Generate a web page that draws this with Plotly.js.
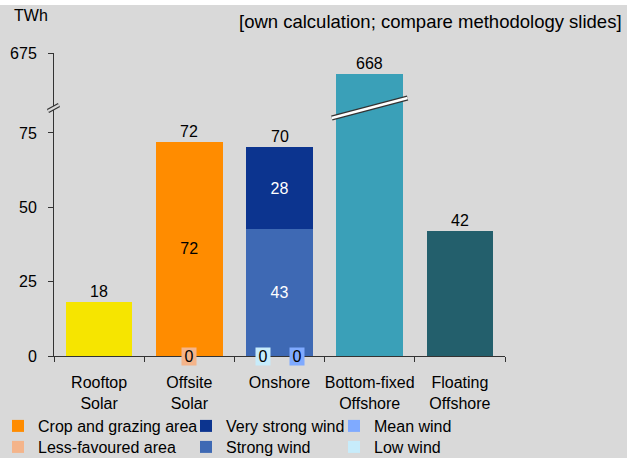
<!DOCTYPE html>
<html>
<head>
<meta charset="utf-8">
<script src="https://cdn.plot.ly/plotly-3.0.1.min.js"></script>
<style>html,body{margin:0;padding:0;background:#d9d9d9;}#chart{width:627px;height:458px;}</style>
</head>
<body>
<div id="chart"></div>
<script>
// ---- data ----
const categories = ['Rooftop<br>Solar', 'Offsite<br>Solar', 'Onshore', 'Bottom-fixed<br>Offshore', 'Floating<br>Offshore'];
const rooftopSolar   = [18, null, null, null, null];
const cropGrazing    = [null, 72, null, null, null];
const lessFavoured   = [null, 0, null, null, null];
const strongWind     = [null, null, 42.6, null, null];
const veryStrongWind = [null, null, 27.6, null, null];
const meanWind       = [null, null, 0, null, null];
const lowWind        = [null, null, 0, null, null];
const bottomFixed    = [null, null, null, 668, null];
const floatingOff    = [null, null, null, null, 42];
const yTickValues = [0, 25, 50, 75, 675];
const breakFrom = 83.4, breakTo = 656.5;   // broken value axis

// ---- helpers ----
const gap = breakTo - breakFrom;
const tf = v => (v == null ? null : (v >= breakTo ? v - gap : v));
const FONT = 'Liberation Sans, Arial, sans-serif';
const C = {
  rooftop: '#f6e500', crop: '#ff8c00', less: '#f4b48a', strong: '#3e69b4',
  vstrong: '#0c348f', mean: '#7faaff', low: '#c7ecfb', bottom: '#3aa0b8', floating: '#235f6c'
};
const PW = 451, PH = 303, ML = 54, MT = 53;
const px2x = p => (p - ML) / PW;
const px2y = p => (MT + PH - p) / PH;
const yTop = tf(675);
const px2v = p => (MT + PH - p) / PH * yTop;   // pixel row -> plotted value

function bar(name, vals, color, opts) {
  return Object.assign({
    type: 'bar', name: name, x: categories, y: vals.map(tf),
    marker: {color: color, line: {width: 0}}, hoverinfo: 'skip', cliponaxis: false
  }, opts || {});
}
const inside = (vals, col) => ({
  text: vals.map(v => v == null ? '' : String(Math.round(v))),
  textposition: 'inside', insidetextanchor: 'middle', textangle: 0,
  textfont: {family: FONT, size: 16, color: col}, constraintext: 'none'
});

const traces = [
  bar('Rooftop Solar', rooftopSolar, C.rooftop, {showlegend: false}),
  bar('Less-favoured area', lessFavoured, C.less, {legend: 'legend4'}),
  bar('Crop and grazing area', cropGrazing, C.crop, Object.assign({legend: 'legend'}, inside(cropGrazing, '#000'))),
  bar('Low wind', lowWind, C.low, {legend: 'legend6'}),
  bar('Mean wind', meanWind, C.mean, {legend: 'legend3'}),
  bar('Strong wind', strongWind, C.strong, Object.assign({legend: 'legend5'}, inside(strongWind, '#fff'))),
  bar('Very strong wind', veryStrongWind, C.vstrong, Object.assign({legend: 'legend2'}, inside(veryStrongWind, '#fff'))),
  bar('Bottom-fixed Offshore', bottomFixed, C.bottom, {showlegend: false}),
  bar('Floating Offshore', floatingOff, C.floating, {showlegend: false})
];

// totals on top of each bar
const stacks = [rooftopSolar, cropGrazing, lessFavoured, strongWind, veryStrongWind, meanWind, lowWind, bottomFixed, floatingOff];
const annotations = [];
categories.forEach((c, i) => {
  const total = stacks.reduce((s, a) => s + (a[i] || 0), 0);
  annotations.push({x: i, y: tf(total), xref: 'x', yref: 'y', text: String(Math.round(total)),
    showarrow: false, yanchor: 'bottom', yshift: 0, font: {family: FONT, size: 16, color: '#000'}});
});
// zero-value labels
[[lessFavoured, C.less, 0], [lowWind, C.low, -17], [meanWind, C.mean, 17]].forEach(([arr, col, dx]) => {
  arr.forEach((v, i) => {
    if (v === 0) annotations.push({x: i, y: 0, xref: 'x', yref: 'y', text: String(v), showarrow: false,
      xshift: dx, yanchor: 'middle', bgcolor: col, borderpad: 0, width: 14, height: 17,
      font: {family: FONT, size: 16, color: '#000'}});
  });
});
annotations.push({xref: 'paper', yref: 'paper', x: px2x(12), y: px2y(15), xanchor: 'left', yanchor: 'middle',
  text: 'TWh', showarrow: false, font: {family: FONT, size: 16, color: '#000'}});
annotations.push({xref: 'paper', yref: 'paper', x: px2x(624), y: px2y(21), xanchor: 'right', yanchor: 'middle',
  text: '[own calculation; compare methodology slides]', showarrow: false, font: {family: FONT, size: 18.5, color: '#000'}});

const shapes = [
  // white strip at very top
  {type: 'rect', xref: 'paper', yref: 'paper', x0: -0.2, x1: 1.4, y0: px2y(-3), y1: px2y(5),
   fillcolor: '#ffffff', line: {width: 0}, layer: 'below'},
  // break across the tall bar
  {type: 'line', xref: 'x', yref: 'y', x0: 3 - 0.42, x1: 3 + 0.42, y0: px2v(118), y1: px2v(98), line: {color: '#333', width: 5}},
  {type: 'line', xref: 'x', yref: 'y', x0: 3 - 0.42, x1: 3 + 0.42, y0: px2v(118), y1: px2v(98), line: {color: '#fff', width: 2.5}},
  // break on value axis
  {type: 'line', xref: 'paper', yref: 'y', x0: px2x(48), x1: px2x(59), y0: px2v(111), y1: px2v(105), line: {color: '#333', width: 4.5}},
  {type: 'line', xref: 'paper', yref: 'y', x0: px2x(48), x1: px2x(59), y0: px2v(111), y1: px2v(105), line: {color: '#d9d9d9', width: 2}}
];

const legBase = {orientation: 'v', yanchor: 'middle', xanchor: 'left', bgcolor: 'rgba(0,0,0,0)',
  font: {family: FONT, size: 16, color: '#000'}, traceorder: 'normal', tracegroupgap: 0};
const colLeft = [-2, 186, 334];
const rowMid = [426, 447];
const leg = (c, r) => Object.assign({}, legBase, {x: px2x(colLeft[c]), y: px2y(rowMid[r])});

const layout = {
  width: 627, height: 458,
  margin: {l: ML, r: 627 - ML - PW, t: MT, b: 458 - MT - PH, pad: 0, autoexpand: false},
  paper_bgcolor: '#d9d9d9', plot_bgcolor: '#d9d9d9',
  font: {family: FONT, size: 16, color: '#000'},
  barmode: 'stack', bargap: 0.26,
  xaxis: {type: 'category', showgrid: false, zeroline: false, showline: true, linecolor: '#333', linewidth: 1,
    ticks: 'outside', ticklen: 5, tickcolor: '#333', tickson: 'boundaries', tickangle: 0,
    tickfont: {family: FONT, size: 16, color: '#000'}, ticklabelstandoff: 12, fixedrange: true},
  yaxis: {range: [0, yTop], showgrid: false, zeroline: false, showline: true, linecolor: '#333', linewidth: 1,
    ticks: 'outside', ticklen: 5, tickcolor: '#333',
    tickvals: yTickValues.map(tf), ticktext: yTickValues.map(String),
    tickfont: {family: FONT, size: 16, color: '#000'}, ticklabelstandoff: 8, fixedrange: true},
  legend: leg(0, 0), legend2: leg(1, 0), legend3: leg(2, 0),
  legend4: leg(0, 1), legend5: leg(1, 1), legend6: leg(2, 1),
  annotations: annotations, shapes: shapes, showlegend: true
};

Plotly.newPlot('chart', traces, layout, {displayModeBar: false, staticPlot: true});
</script>
</body>
</html>
